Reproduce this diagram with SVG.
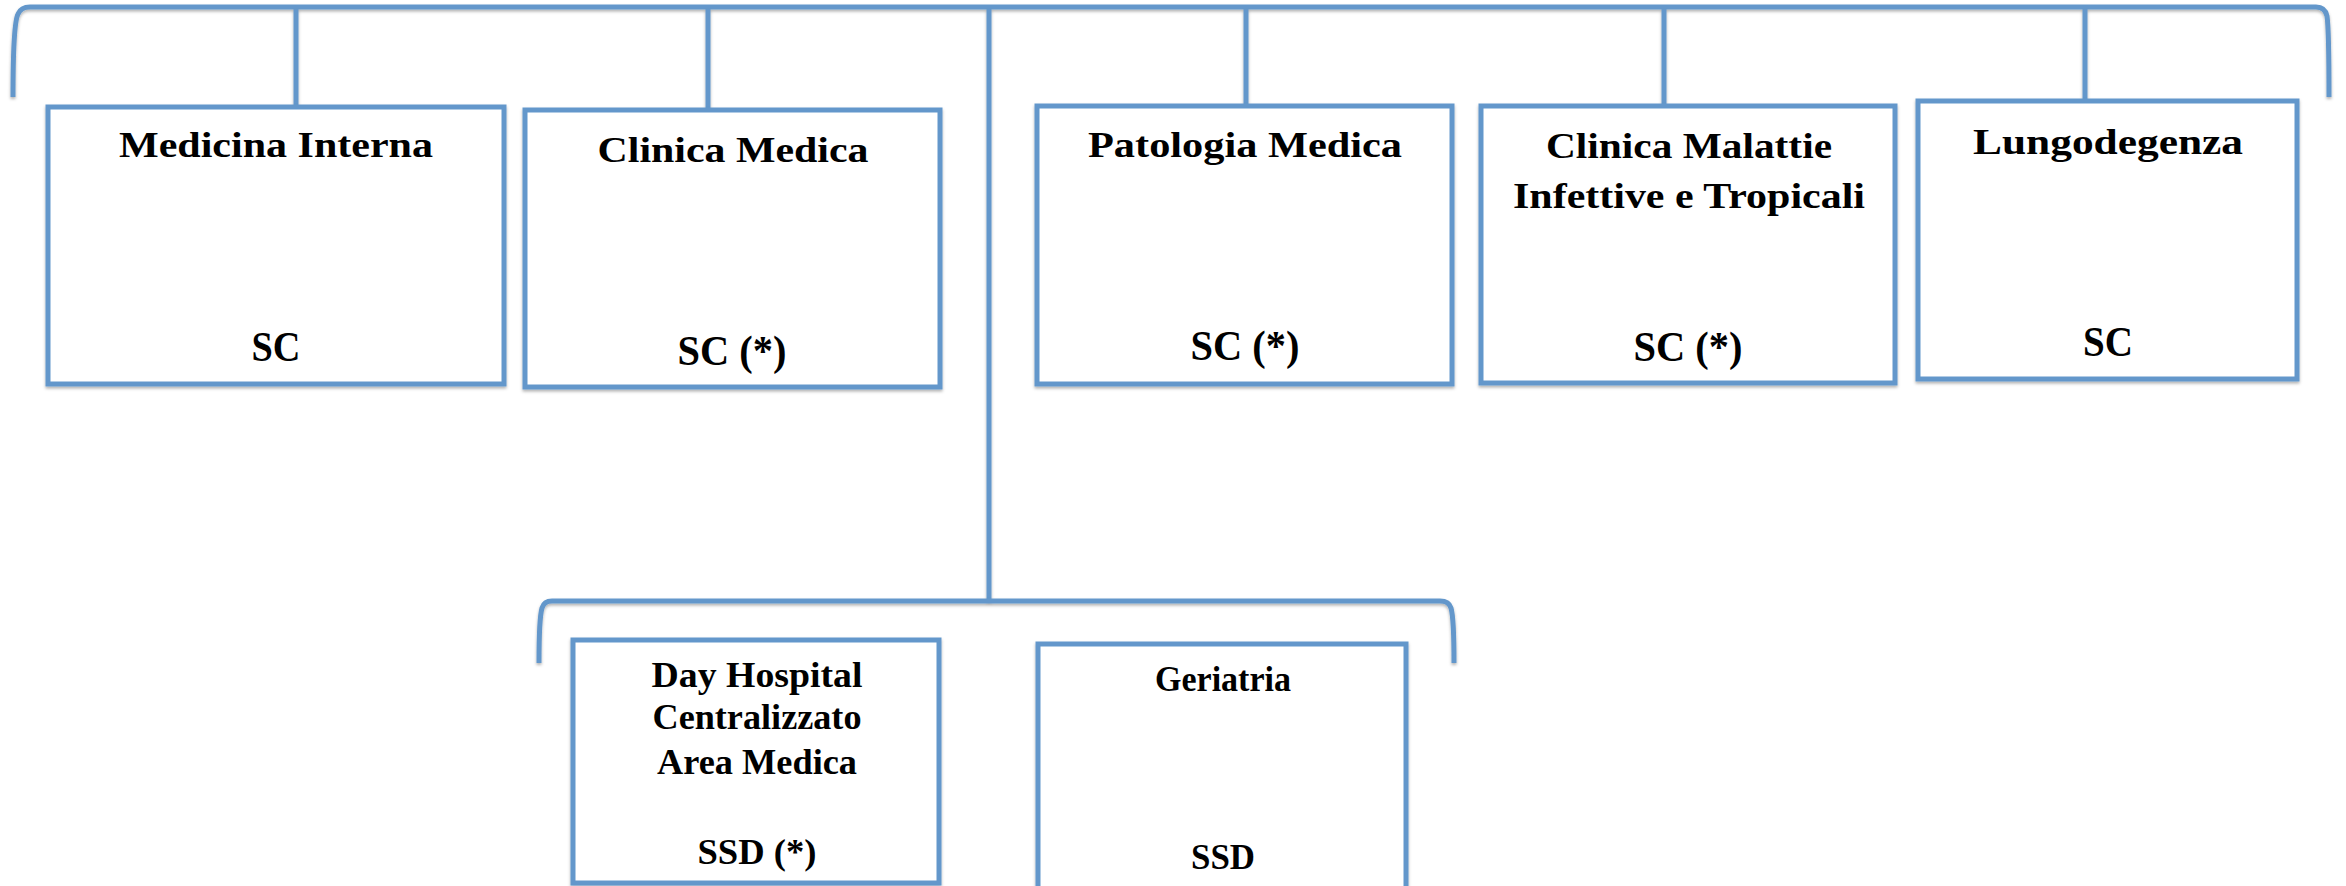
<svg xmlns="http://www.w3.org/2000/svg" width="2346" height="886" viewBox="0 0 2346 886">
<defs>
<filter id="sh" filterUnits="userSpaceOnUse" x="0" y="0" width="2346" height="886">
<feDropShadow dx="0" dy="2" stdDeviation="1.5" flood-color="#000" flood-opacity="0.3"/>
</filter>
<style>
.ln{fill:none;stroke:#6397CB;stroke-width:5;stroke-linecap:butt;filter:url(#sh)}
.bx{fill:#fff;stroke:#6397CB;stroke-width:5;filter:url(#sh)}
.t{font-family:"Liberation Serif","Times New Roman",serif;font-weight:bold;font-size:35px;fill:#000;text-anchor:middle}
.s{font-family:"Liberation Serif","Times New Roman",serif;font-weight:bold;font-size:42px;fill:#000;text-anchor:middle}
.s2{font-family:"Liberation Serif","Times New Roman",serif;font-weight:bold;font-size:36px;fill:#000;text-anchor:middle}
</style>
</defs>
<rect width="2346" height="886" fill="#fff"/>
<g id="connectors">
<path class="ln" d="M13,97 C13,60 14,22 18,14 Q21,7 30,7 L2316,7 Q2325,7 2327,16 C2329,30 2329,70 2329,97"/>
<path class="ln" d="M296,9 V107"/>
<path class="ln" d="M708,9 V110"/>
<path class="ln" d="M1246,9 V106"/>
<path class="ln" d="M1664,9 V106"/>
<path class="ln" d="M2085,9 V101"/>
<path class="ln" d="M989,9 V601"/>
<path class="ln" d="M539,663 C539,640 540,615 542,608 Q544,601 552,601 L1440,601 Q1449,601 1451,608 C1453,615 1454,640 1454,663"/>
</g>
<g id="n1">
<rect class="bx" x="48" y="107" width="456" height="277"/>
<text class="t" x="276" y="157" textLength="314" lengthAdjust="spacingAndGlyphs">Medicina Interna</text>
<text class="s" x="276" y="361" textLength="49" lengthAdjust="spacingAndGlyphs">SC</text>
</g>
<g id="n2">
<rect class="bx" x="525" y="110" width="415" height="277"/>
<text class="t" x="733" y="162" textLength="271" lengthAdjust="spacingAndGlyphs">Clinica Medica</text>
<text class="s" x="732" y="365" textLength="109" lengthAdjust="spacingAndGlyphs">SC (*)</text>
</g>
<g id="n3">
<rect class="bx" x="1037" y="106" width="415" height="278"/>
<text class="t" x="1245" y="157" textLength="314" lengthAdjust="spacingAndGlyphs">Patologia Medica</text>
<text class="s" x="1245" y="360" textLength="109" lengthAdjust="spacingAndGlyphs">SC (*)</text>
</g>
<g id="n4">
<rect class="bx" x="1481" y="106" width="414" height="277"/>
<text class="t" x="1689" y="158" textLength="286" lengthAdjust="spacingAndGlyphs">Clinica Malattie</text>
<text class="t" x="1689" y="208" textLength="352" lengthAdjust="spacingAndGlyphs">Infettive e Tropicali</text>
<text class="s" x="1688" y="361" textLength="109" lengthAdjust="spacingAndGlyphs">SC (*)</text>
</g>
<g id="n5">
<rect class="bx" x="1918" y="101" width="379" height="278"/>
<text class="t" x="2108" y="154" textLength="270" lengthAdjust="spacingAndGlyphs">Lungodegenza</text>
<text class="s" x="2108" y="356" textLength="50" lengthAdjust="spacingAndGlyphs">SC</text>
</g>
<g id="n6">
<rect class="bx" x="573" y="640" width="366" height="243"/>
<text class="t" x="757" y="687" textLength="211" lengthAdjust="spacingAndGlyphs">Day Hospital</text>
<text class="t" x="757" y="729" textLength="209" lengthAdjust="spacingAndGlyphs">Centralizzato</text>
<text class="t" x="757" y="774" textLength="200" lengthAdjust="spacingAndGlyphs">Area Medica</text>
<text class="s2" x="757" y="864" textLength="119" lengthAdjust="spacingAndGlyphs">SSD (*)</text>
</g>
<g id="n7">
<rect class="bx" x="1038" y="644" width="368" height="260"/>
<text class="t" x="1223" y="691" textLength="136" lengthAdjust="spacingAndGlyphs">Geriatria</text>
<text class="s2" x="1223" y="869" textLength="64" lengthAdjust="spacingAndGlyphs">SSD</text>
</g>
</svg>
